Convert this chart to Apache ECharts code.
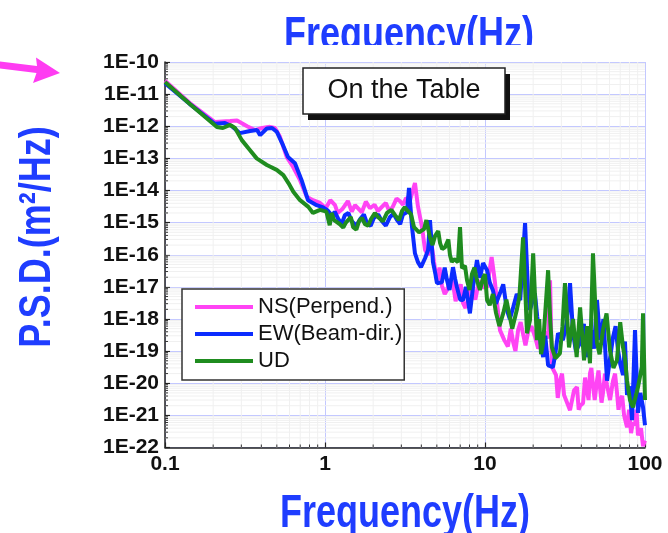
<!DOCTYPE html>
<html><head><meta charset="utf-8">
<script src="https://cdn.jsdelivr.net/npm/echarts@6/dist/echarts.min.js"></script>
<style>html,body{margin:0;padding:0;background:#fff}#c{width:668px;height:533px}</style>
</head><body><div id="c"></div><script>
const xTickValues = [0.1, 1, 10, 100];
const xTickLabels = ['0.1', '1', '10', '100'];
const yTickExponents = [-10, -11, -12, -13, -14, -15, -16, -17, -18, -19, -20, -21, -22];
const yTickLabels = ['1E-10', '1E-11', '1E-12', '1E-13', '1E-14', '1E-15', '1E-16', '1E-17', '1E-18', '1E-19', '1E-20', '1E-21', '1E-22'];
const seriesNames = ['NS(Perpend.)', 'EW(Beam-dir.)', 'UD'];

const nsFreq = [0.1,0.143,0.205,0.255,0.282,0.326,0.365,0.404,0.453,0.487,0.523,0.577,0.631,0.698,0.769,0.841,0.931,1.01,1.155,1.28,1.39,1.54,1.70,1.91,2.14,2.40,2.66,2.94,3.21,3.40,3.65,3.81,4.04,4.22,4.41,4.60,4.80,5.01,5.38,5.79,6.31,6.78,7.29,7.83,8.41,9.04,9.72,10.3,11.0,11.5,12.4,13.2,13.9,15.0,16.1,17.3,18.6,20.5,22.7,24.8,25.5,26.2,27.8,29.4,31.2,34.0,36.0,37.6,39.3,41.0,43.4,45.3,47.3,50.1,52.4,54.6,57.9,63.1,66.8,69.8,74.0,77.2,81.8,86.6,90.4,94.4,97.2,100];
const nsPsd = [2.6e-11,5.3e-12,1.35e-12,1.45e-12,1.5e-12,1.0e-12,7.6e-13,8.8e-13,9.6e-13,8.8e-13,4.7e-13,1.1e-13,5.5e-14,2.1e-14,6.4e-15,5.0e-15,4.1e-15,2.8e-15,3.5e-15,2.6e-15,4.7e-15,3.5e-15,2.1e-15,2.8e-15,2.3e-15,4.1e-15,3.2e-15,4.7e-15,5.8e-15,5.0e-15,1.7e-14,3.2e-15,7.2e-16,1.4e-16,9.7e-17,2.8e-16,5.9e-17,1.6e-17,1.1e-17,7.9e-18,1.3e-17,6.8e-18,3.1e-18,4.1e-18,7.9e-18,1.05e-17,9.7e-18,9.7e-18,8.5e-17,1.6e-17,4.5e-19,2.2e-19,1.4e-19,1.9e-19,4.5e-19,3.4e-19,3.9e-19,2.9e-19,2.2e-19,2.5e-19,1.6e-17,3.2e-20,1.8e-20,1.2e-20,4.3e-21,1.45e-21,6.0e-21,7.6e-21,2.0e-21,2.4e-21,6.0e-21,2.0e-20,8.7e-21,1.2e-20,6.9e-21,4.9e-21,8.7e-21,1.2e-20,5.2e-21,3.0e-21,1.0e-21,4.3e-22,2.8e-22,4.9e-22,2.4e-22,4.0e-22,1.1e-22,1.65e-22];
// extra read-off points where the NS trace is noisy
const nsFreqNoise = [1.08,1.2,1.47,1.8,2.04,2.53,2.8,3.07,5.2,5.6,6.1,6.55,7.05,7.55,8.1,8.7,9.4,14.5,15.5,16.7,17.9,19.5,21.5,23.8,28.5,30.3,38.5,42.2,44.4,46.2,48.5,51.2,53.5,56.2,60.5,65.0,68.3,72.0,79.5,84.0,88.5];
const nsPsdNoise = [5e-15,2e-15,2.2e-15,4.5e-15,3.6e-15,2.2e-15,5.6e-15,3.6e-15,4e-17,6e-18,1.8e-17,3.6e-18,1.2e-17,2.2e-18,1.5e-17,4e-18,1.6e-17,5e-19,1.0e-19,8e-19,1.5e-19,6e-19,1.2e-19,4e-19,3.5e-21,2.0e-20,1.5e-21,1.5e-20,3e-21,3e-20,3e-21,2.5e-20,2.5e-21,2e-20,3e-21,2e-20,1.5e-21,4e-21,1.5e-21,6e-22,1.5e-21];

const ewFreq = [0.1,0.143,0.205,0.237,0.262,0.294,0.340,0.376,0.393,0.433,0.467,0.501,0.539,0.587,0.649,0.714,0.783,0.887,0.972,1.04,1.11,1.21,1.33,1.47,1.66,1.83,2.02,2.27,2.55,2.82,3.07,3.25,3.35,3.50,3.65,3.81,3.98,4.22,4.41,4.53,4.73,5.01,5.38,5.79,6.31,6.68,7.29,8.05,8.41,8.91,9.31,9.72,10.3,11.2,12.4,13.7,15.0,16.6,17.8,18.6,19.1,20.5,22.1,23.1,24.8,26.6,28.6,30.7,34.0,35.5,39.3,43.4,46.0,50.1,52.4,57.9,63.1,67.8,72.9,77.2,83.0,86.6,90.4,97.2,100];
const ewPsd = [2.2e-11,4.9e-12,1.2e-12,1.26e-12,1.0e-12,6.1e-13,7.1e-13,7.6e-13,5.3e-13,8.5e-13,8.8e-13,6.6e-13,3.0e-13,1.1e-13,7.1e-14,2.1e-14,5.0e-15,3.5e-15,3.0e-15,2.4e-15,1.6e-15,1.3e-15,1.7e-15,1.1e-15,1.3e-15,9.6e-16,1.4e-15,1.1e-15,1.5e-15,1.2e-15,1.8e-15,2.1e-15,1.2e-14,7.2e-16,1.1e-16,5.9e-17,4.1e-17,7.8e-17,1.4e-16,1.2e-15,5.9e-17,1.3e-17,1.4e-17,1.6e-17,4.1e-17,9.7e-18,3.9e-18,1.5e-18,9.7e-18,6.8e-17,1.9e-17,5.5e-17,3.3e-17,7.9e-18,6.3e-18,1.9e-18,2.3e-18,3.9e-18,9.6e-16,6.3e-18,1.9e-18,6.3e-18,2.2e-19,6.5e-20,3.6e-20,3.2e-20,3.6e-19,2.2e-19,1.3e-17,3.6e-19,1.8e-19,6.5e-20,4.5e-19,3.9e-18,2.2e-19,1.2e-20,2.7e-19,1.07e-19,1.8e-20,4.3e-21,7.1e-22,4.5e-19,1.2e-21,1.8e-21,4.9e-22];
const ewFreqNoise = [1.15,1.27,1.4,1.57,1.75,1.93,2.15,2.4,2.68,2.95,4.9,5.6,6.0,6.5,7.0,7.6,10.7,11.7,13.0,14.3,15.8,21.2,23.8,27.5,32.5,37.0,41.5,48.0,55.0,60.5,65.5,70.0,75.0,80.0,93.5];
const ewPsdNoise = [2.2e-15,9e-16,2.0e-15,8e-16,1.8e-15,8e-16,1.8e-15,8e-16,1.9e-15,9e-16,2.5e-17,4e-17,8e-18,1.8e-17,4e-18,1.0e-17,1.4e-17,3e-18,1.2e-17,1.0e-18,6e-18,1.2e-18,3e-19,8e-20,8e-19,1.0e-19,7e-19,1.2e-19,1.0e-18,6e-20,6e-19,4e-20,2e-19,8e-21,5e-21];

const udFreq = [0.1,0.143,0.211,0.230,0.255,0.274,0.302,0.340,0.374,0.433,0.499,0.549,0.591,0.634,0.698,0.787,0.841,0.931,1.02,1.07,1.14,1.24,1.35,1.50,1.63,1.78,1.94,2.14,2.44,2.74,3.03,3.25,3.45,3.60,3.87,4.16,4.53,4.87,5.24,5.62,6.04,6.40,6.78,6.98,7.18,7.72,8.29,8.91,9.72,10.3,10.7,11.7,13.0,14.3,15.8,17.3,18.3,19.1,20.0,21.1,23.1,24.8,26.2,29.4,31.6,33.5,37.4,39.3,41.6,45.3,47.3,50.1,54.6,60.4,66.8,72.9,77.2,80.6,84.1,90.4,95.5,97.2,100];
const udPsd = [2.4e-11,4.9e-12,9.5e-13,8.8e-13,1.1e-12,8.8e-13,3.7e-13,1.8e-13,1.0e-13,6.2e-14,4.4e-14,3.0e-14,1.7e-14,9.1e-15,5.0e-15,3.1e-15,2.0e-15,2.5e-15,2.2e-15,8.3e-16,1.2e-15,8.9e-16,1.0e-15,7.2e-16,1.1e-15,8.9e-16,1.3e-15,1.5e-15,2.0e-15,1.7e-15,2.3e-15,2.5e-15,1.8e-15,7.2e-16,5.0e-16,6.3e-16,3.5e-16,3.8e-16,2.3e-16,1.7e-16,9.8e-17,7.3e-17,5.9e-17,7.2e-16,3.8e-17,1.6e-17,2.5e-17,1.6e-17,1.9e-17,3.9e-18,2.7e-18,1.6e-18,1.5e-18,1.15e-18,1.9e-18,3.5e-16,3.6e-19,9.1e-19,1.1e-16,2.2e-19,1.8e-19,3.3e-17,1.3e-19,8.5e-20,1.3e-17,1.3e-19,6.5e-20,2.3e-18,5.2e-20,4.2e-20,1.1e-16,1.8e-19,4.5e-19,1.07e-19,5.2e-20,1.3e-19,1.2e-20,3.0e-21,1.8e-21,7.6e-21,3.2e-20,1.5e-18,3.0e-21];
const udFreqNoise = [1.1,1.3,1.45,1.57,1.7,1.86,2.05,2.3,2.6,2.9,3.15,4.3,4.7,5.1,5.4,5.9,6.2,7.5,8.0,8.6,9.3,10.0,11.2,12.3,13.6,14.8,16.4,21.8,22.4,25.6,27.5,30.5,35.5,43.5,52.0,57.5,63.5,70.0,75.0];
const udPsdNoise = [2.0e-15,7e-16,1.5e-15,6e-16,1.4e-15,8e-16,2e-15,1.1e-15,2.5e-15,1.2e-15,3.0e-15,1.2e-15,2.0e-16,5.5e-16,1.5e-16,3.0e-16,6.0e-17,4.5e-17,8e-18,4e-17,8e-18,2.5e-17,6e-18,6e-19,4e-18,5e-19,5e-18,1.0e-18,8e-20,8e-19,6e-20,6e-19,1e-18,6e-19,8e-20,1.5e-18,3e-20,8e-19,6e-20];

const seriesColors = ['#ff44f4', '#0b2cff', '#1f8c1f'];
const X_MIN = 0.1, X_MAX = 100;
const Y_EXP_MIN = -22, Y_EXP_MAX = -10;   // y axis drawn in decades (log10 of PSD)

// PSD spans below 1e-20, which ECharts 6's log scale rounds to 0, so the y axis
// is a value axis over log10(PSD) decades.
function pairs(f, v, fn, vn) {
  const out = [];
  for (let i = 0; i < Math.min(f.length, v.length); i++) out.push([f[i], Math.log10(v[i])]);
  for (let i = 0; i < Math.min(fn.length, vn.length); i++) out.push([fn[i], Math.log10(vn[i])]);
  out.sort((a, b) => a[0] - b[0]);
  return out;
}
function minorX() { const out = []; for (let e = -1; e < 2; e++) for (let k = 2; k <= 9; k++) out.push([k * Math.pow(10, e), Y_EXP_MIN]); return out; }
function minorY() { const out = []; for (let e = Y_EXP_MIN; e < Y_EXP_MAX; e++) for (let k = 2; k <= 9; k++) out.push([X_MIN, e + Math.log10(k)]); return out; }

const FONT = 'Liberation Sans';
const chart = echarts.init(document.getElementById('c'), null, {renderer: 'canvas'});

function minorRender(isX) {
  return function (params, api) {
    const p = api.coord([api.value(0), api.value(1)]);
    const q = isX ? api.coord([api.value(0), Y_EXP_MAX]) : api.coord([X_MAX, api.value(1)]);
    return {type: 'group', children: [
      {type: 'line', shape: isX ? {x1: p[0], y1: q[1], x2: p[0], y2: p[1]} : {x1: p[0], y1: p[1], x2: q[0], y2: p[1]},
        style: {stroke: '#f0f0f0', lineWidth: 1}},
      {type: 'line', shape: isX ? {x1: p[0], y1: p[1], x2: p[0], y2: p[1] - 3} : {x1: p[0], y1: p[1], x2: p[0] + 3, y2: p[1]},
        style: {stroke: '#333', lineWidth: 1}}
    ]};
  };
}

chart.setOption({
  animation: false,
  backgroundColor: '#ffffff',
  grid: {left: 165, top: 62, width: 480, height: 385.5},
  legend: {
    data: seriesNames, orient: 'vertical', left: 182, top: 289, icon: 'rect',
    itemWidth: 58, itemHeight: 4, itemGap: 5,
    padding: [7, 2, 8, 13],
    borderColor: '#333', borderWidth: 1.5, backgroundColor: '#ffffff',
    textStyle: {fontFamily: FONT, fontSize: 22, color: '#111'}
  },
  xAxis: {
    type: 'log', logBase: 10, min: X_MIN, max: X_MAX, position: 'bottom',
    axisLine: {show: true, lineStyle: {color: '#222', width: 1.5}},
    axisTick: {show: true, inside: true, length: 5, lineStyle: {color: '#222', width: 1.2}},
    axisLabel: {fontFamily: FONT, fontSize: 21, fontWeight: 'bold', color: '#111', margin: 6,
      formatter: v => { const i = xTickValues.findIndex(t => Math.abs(Math.log10(t) - Math.log10(v)) < 1e-6); return i >= 0 ? xTickLabels[i] : ''; }},
    splitLine: {show: true, lineStyle: {color: '#c3c8ff', width: 1}}
  },
  yAxis: {
    type: 'value', min: Y_EXP_MIN, max: Y_EXP_MAX, interval: 1, position: 'left',
    axisLine: {show: true, lineStyle: {color: '#222', width: 1.5}},
    axisTick: {show: true, inside: true, length: 5, lineStyle: {color: '#222', width: 1.2}},
    axisLabel: {fontFamily: FONT, fontSize: 21, fontWeight: 'bold', color: '#111', margin: 6,
      formatter: v => { const i = yTickExponents.indexOf(Math.round(v)); return i >= 0 ? yTickLabels[i] : ''; }},
    splitLine: {show: true, lineStyle: {color: '#c3c8ff', width: 1}}
  },
  series: [
    {type: 'custom', name: 'xminor', silent: true, clip: false, z: 1, renderItem: minorRender(true), data: minorX()},
    {type: 'custom', name: 'yminor', silent: true, clip: false, z: 1, renderItem: minorRender(false), data: minorY()},
    {name: seriesNames[0], type: 'line', data: pairs(nsFreq, nsPsd, nsFreqNoise, nsPsdNoise), symbol: 'none', color: seriesColors[0], lineStyle: {width: 4, color: seriesColors[0]}, z: 3},
    {name: seriesNames[1], type: 'line', data: pairs(ewFreq, ewPsd, ewFreqNoise, ewPsdNoise), symbol: 'none', color: seriesColors[1], lineStyle: {width: 4, color: seriesColors[1]}, z: 4},
    {name: seriesNames[2], type: 'line', data: pairs(udFreq, udPsd, udFreqNoise, udPsdNoise), symbol: 'none', color: seriesColors[2], lineStyle: {width: 4, color: seriesColors[2]}, z: 5}
  ],
  graphic: [
    {type: 'text', x: 409, y: 36, scaleY: 1.3, z: 10,
      style: {text: 'Frequency(Hz)', x: 0, y: 0, align: 'center', verticalAlign: 'middle', font: 'bold 36px "Liberation Sans"', fill: '#1f3dff'}},
    {type: 'rect', shape: {x: 260, y: 45, width: 300, height: 14}, z: 11, style: {fill: '#ffffff'}},
    {type: 'text', x: 405, y: 514, scaleY: 1.3, z: 10,
      style: {text: 'Frequency(Hz)', x: 0, y: 0, align: 'center', verticalAlign: 'middle', font: 'bold 36px "Liberation Sans"', fill: '#1f3dff'}},
    {type: 'text', x: 38, y: 237, rotation: Math.PI / 2, scaleY: 1.25, z: 10,
      style: {text: 'P.S.D.(m²/Hz)', x: 0, y: 0, align: 'center', verticalAlign: 'middle', font: 'bold 36px "Liberation Sans"', fill: '#1f3dff'}},
    {type: 'polygon', z: 10, shape: {points: [[0, 61.5], [37, 66], [36, 57.5], [60, 73], [33, 83], [36.5, 73], [0, 68.5]]}, style: {fill: '#ff3cf2'}},
    {type: 'rect', shape: {x: 308, y: 74, width: 202, height: 46}, z: 10, style: {fill: '#111'}},
    {type: 'rect', shape: {x: 303, y: 68, width: 202, height: 46}, z: 11, style: {fill: '#ffffff', stroke: '#222', lineWidth: 1.5}},
    {type: 'text', x: 404, y: 91, z: 12,
      style: {text: 'On the Table', x: 0, y: 0, align: 'center', verticalAlign: 'middle', font: '27px "Liberation Sans"', fill: '#111'}}
  ]
});
</script></body></html>
